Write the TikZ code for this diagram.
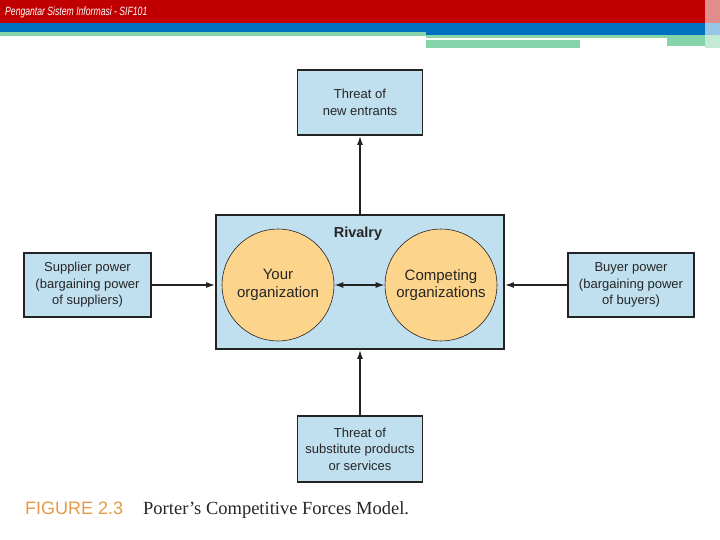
\documentclass[tikz,border=0pt]{standalone}
\usepackage{fontspec}
\setmainfont{Liberation Sans}
\newfontfamily\capserif{Liberation Serif}
\usetikzlibrary{arrows.meta}
\definecolor{hdrred}{HTML}{C00000}
\definecolor{hdrblue}{HTML}{0070C0}
\definecolor{hdrgreen}{HTML}{86D4A9}
\definecolor{boxblue}{HTML}{C0DFEF}
\definecolor{circfill}{HTML}{FDD48B}
\definecolor{edge}{HTML}{232323}
\definecolor{capor}{HTML}{E59A48}
\begin{document}
\begin{tikzpicture}[x=1pt,y=-1pt,
  forcebox/.style={draw=edge,line width=1.8pt,fill=boxblue,inner sep=0pt},
  boxtext/.style={align=center,font=\fontsize{13}{16.5}\selectfont,text=black!85},
  orgcirc/.style={draw=edge,line width=0.6pt,fill=circfill,circle,minimum size=112pt,inner sep=0pt,align=center,font=\fontsize{15}{17.5}\selectfont,text=black!85},
  conn/.style={line width=1.4pt,draw=edge,-{Latex[length=9pt,width=6pt]}},
  dconn/.style={line width=1.4pt,draw=edge,{Latex[length=9pt,width=6pt]}-{Latex[length=9pt,width=6pt]}}]
\useasboundingbox (0,0) rectangle (720,540);
\fill[white] (0,0) rectangle (720,540);
% header
\fill[hdrred] (0,0) rectangle (705,23);
\fill[hdrred!45] (705,0) rectangle (720,23);
\fill[hdrblue] (0,23) rectangle (705,32);
\fill[hdrblue] (426,32) rectangle (705,35);
\fill[hdrblue!40] (705,23) rectangle (720,35);
\fill[hdrgreen] (0,32) rectangle (426,36);
\fill[hdrgreen] (426,35) rectangle (705,38);
\fill[hdrgreen] (426,40) rectangle (580,48);
\fill[hdrgreen] (667,38) rectangle (705,46);
\fill[hdrgreen!50] (705,35) rectangle (720,48);
\node[anchor=west,text=white,inner sep=0pt,font=\itshape\fontsize{12}{13}\selectfont] (hdr) at (5,12) {\scalebox{0.72}[1]{Pengantar Sistem Informasi - SIF101}};
% boxes
\node[forcebox,minimum width=125pt,minimum height=65pt] (top) at (360,102.5) {};
\node[boxtext] at (top.center) {Threat of\\new entrants};
\node[forcebox,minimum width=288pt,minimum height=134pt] (riv) at (360,282) {};
\node[font=\bfseries\fontsize{14.5}{16}\selectfont,text=black!85] (rivlab) at (358,234) {Rivalry};
\node[orgcirc] (you) at (278,285) {Your\\organization};
\node[orgcirc] (comp) at (441,285) {Competing\\organizations};
\node[forcebox,minimum width=127pt,minimum height=64pt] (sup) at (87.5,285) {};
\node[boxtext] at (sup.center) {Supplier power\\(bargaining power\\of suppliers)};
\node[forcebox,minimum width=126pt,minimum height=64pt] (buy) at (631,285) {};
\node[boxtext] at (buy.center) {Buyer power\\(bargaining power\\of buyers)};
\node[forcebox,minimum width=125pt,minimum height=66pt] (bot) at (360,449) {};
\node[boxtext] at (bot.center) {Threat of\\substitute products\\or services};
% connectors
\draw[conn] (riv.north) -- (top.south);
\draw[conn] (bot.north) -- (riv.south);
\draw[conn] (sup.east) -- (sup.east -| riv.west);
\draw[conn] (buy.west) -- (buy.west -| riv.east);
\draw[dconn] (you.east) -- (comp.west);
% caption
\node[anchor=base west,inner sep=0pt,text=capor,font=\fontsize{18}{19}\selectfont] (fig) at (25,514) {FIGURE 2.3};
\node[anchor=base west,inner sep=0pt,text=black!85,font=\capserif\fontsize{18.5}{19}\selectfont] (cap) at (143,514) {Porter’s Competitive Forces Model.};
\end{tikzpicture}
\end{document}
